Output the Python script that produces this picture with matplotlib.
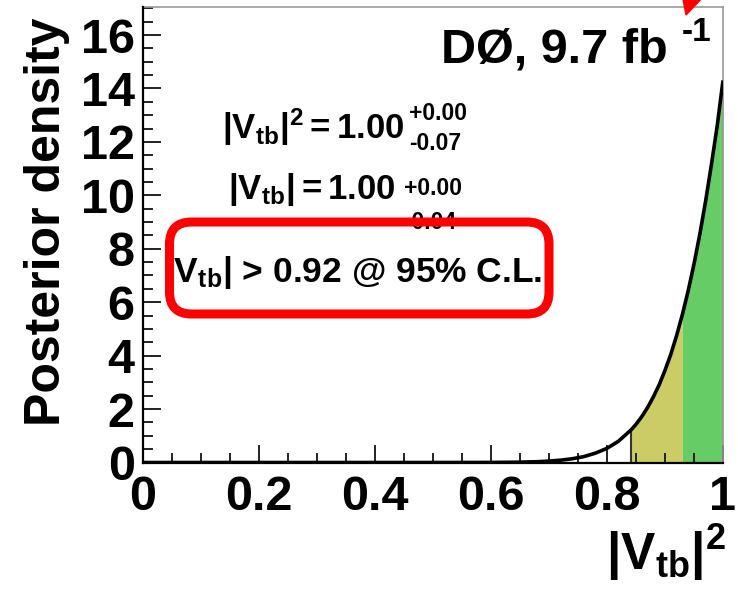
import matplotlib
matplotlib.use('Agg')
import matplotlib.pyplot as plt
import numpy as np
from matplotlib.patches import FancyBboxPatch, Polygon
from matplotlib.transforms import IdentityTransform
from matplotlib.ticker import MultipleLocator

plt.rcParams['font.family'] = ['Liberation Sans', 'DejaVu Sans']
plt.rcParams['font.weight'] = 'bold'
plt.rcParams['mathtext.fontset'] = 'custom'
plt.rcParams['mathtext.rm'] = 'Liberation Sans:bold'
plt.rcParams['mathtext.it'] = 'Liberation Sans:bold'
plt.rcParams['mathtext.bf'] = 'Liberation Sans:bold'
plt.rcParams['mathtext.default'] = 'rm'

# posterior density
vtb2 = np.array([0.0, 0.1, 0.2, 0.3, 0.4, 0.5, 0.55, 0.6, 0.65, 0.68, 0.70,
                 0.72, 0.74, 0.76, 0.78, 0.80, 0.82, 0.842, 0.85, 0.86, 0.87,
                 0.88, 0.89, 0.90, 0.91, 0.92, 0.93, 0.94, 0.95, 0.96, 0.97,
                 0.98, 0.99, 1.0])
density = np.array([0.0, 0.0, 0.0, 0.0, 0.0, 0.0, 0.001, 0.003, 0.013, 0.03, 0.053,
                    0.087, 0.14, 0.22, 0.35, 0.53, 0.80, 1.23, 1.43, 1.72, 2.06,
                    2.46, 2.91, 3.45, 4.05, 4.75, 5.54, 6.43, 7.43, 8.54, 9.78,
                    11.15, 12.6, 14.3])
limit95 = 0.842   # |Vtb| > 0.92
limit68 = 0.93    # 1.00 - 0.07

xticks = [0, 0.2, 0.4, 0.6, 0.8, 1.0]
xtick_labels = ['0', '0.2', '0.4', '0.6', '0.8', '1']
yticks = [0, 2, 4, 6, 8, 10, 12, 14, 16]

W, H = 738, 600
fig = plt.figure(figsize=(W / 100, H / 100), dpi=100)
ax = fig.add_axes([143 / W, 1 - 462.5 / H, 580 / W, 455.5 / H])

yellow = (vtb2 >= limit95) & (vtb2 <= limit68)
green = vtb2 >= limit68
ax.fill_between(vtb2, 0, density, where=yellow, color='#cccc66', lw=0, zorder=1)
ax.fill_between(vtb2, 0, density, where=green, color='#66cc66', lw=0, zorder=1)
ax.vlines(limit95, 0, density[vtb2 == limit95][0], color='#333333', lw=1.5, zorder=2)
ax.plot(vtb2, density, color='black', lw=2.6, zorder=3, solid_capstyle='butt')

ax.set_xlim(0, 1)
ax.set_ylim(0, 17.05)
ax.set_xticks(xticks)
ax.set_xticklabels(xtick_labels)
ax.set_yticks(yticks)
ax.xaxis.set_minor_locator(MultipleLocator(0.05))
ax.yaxis.set_minor_locator(MultipleLocator(0.5))
ax.tick_params(which='both', direction='in', top=False, right=False, width=1.4,
               color='#222222', labelsize=35, zorder=5)
ax.tick_params(which='major', length=13)
ax.tick_params(which='minor', length=7)
ax.tick_params(axis='x', pad=9)
ax.tick_params(axis='y', pad=6)
for s in ['left', 'bottom']:
    ax.spines[s].set_linewidth(1.6)
    ax.spines[s].set_zorder(6)
for s in ['top', 'right']:
    ax.spines[s].set_linewidth(1.2)
    ax.spines[s].set_color('#999999')

def fx(x):
    return x / W

def fy(y):
    return 1 - y / H

fig.text(fx(47), fy(18), 'Posterior density', rotation=90, ha='center', va='top', fontsize=36)
fig.text(fx(726), fy(570), r'$|V_{tb}|^2$', ha='right', va='baseline', fontsize=37)

fig.text(fx(668), fy(63), 'DØ, 9.7 fb', ha='right', va='baseline', fontsize=35)
fig.text(fx(682), fy(41), '-1', ha='left', va='baseline', fontsize=24)

# results, with the asymmetric errors stacked to the right
fig.text(fx(222), fy(139), r'$|V_{tb}|^2 = 1.00$', ha='left', va='baseline', fontsize=25)
fig.text(fx(409), fy(120), '+0.00', ha='left', va='baseline', fontsize=16.5)
fig.text(fx(409), fy(150), '-0.07', ha='left', va='baseline', fontsize=16.5)
fig.text(fx(228), fy(199), r'$|V_{tb}| = 1.00$', ha='left', va='baseline', fontsize=25)
fig.text(fx(404), fy(195), '+0.00', ha='left', va='baseline', fontsize=16.5)
fig.text(fx(404), fy(229), '-0.04', ha='left', va='baseline', fontsize=16.5)
fig.text(fx(164), fy(282), r'$|V_{tb}|$ > 0.92 @ 95% C.L.', ha='left', va='baseline', fontsize=25.5)

# red highlight box and arrow
box = FancyBboxPatch((169.5, H - 314), 549 - 169.5, 314 - 222,
                     boxstyle='round,pad=0,rounding_size=22', transform=IdentityTransform(),
                     lw=6.5, ec='red', fc='none', zorder=10)
fig.add_artist(box)
arrow = Polygon([(686, H - 15), (682, H + 6), (706, H + 6)], closed=True,
                transform=IdentityTransform(), fc='red', ec='red', zorder=10)
fig.add_artist(arrow)

fig.savefig('out.png', dpi=100)
